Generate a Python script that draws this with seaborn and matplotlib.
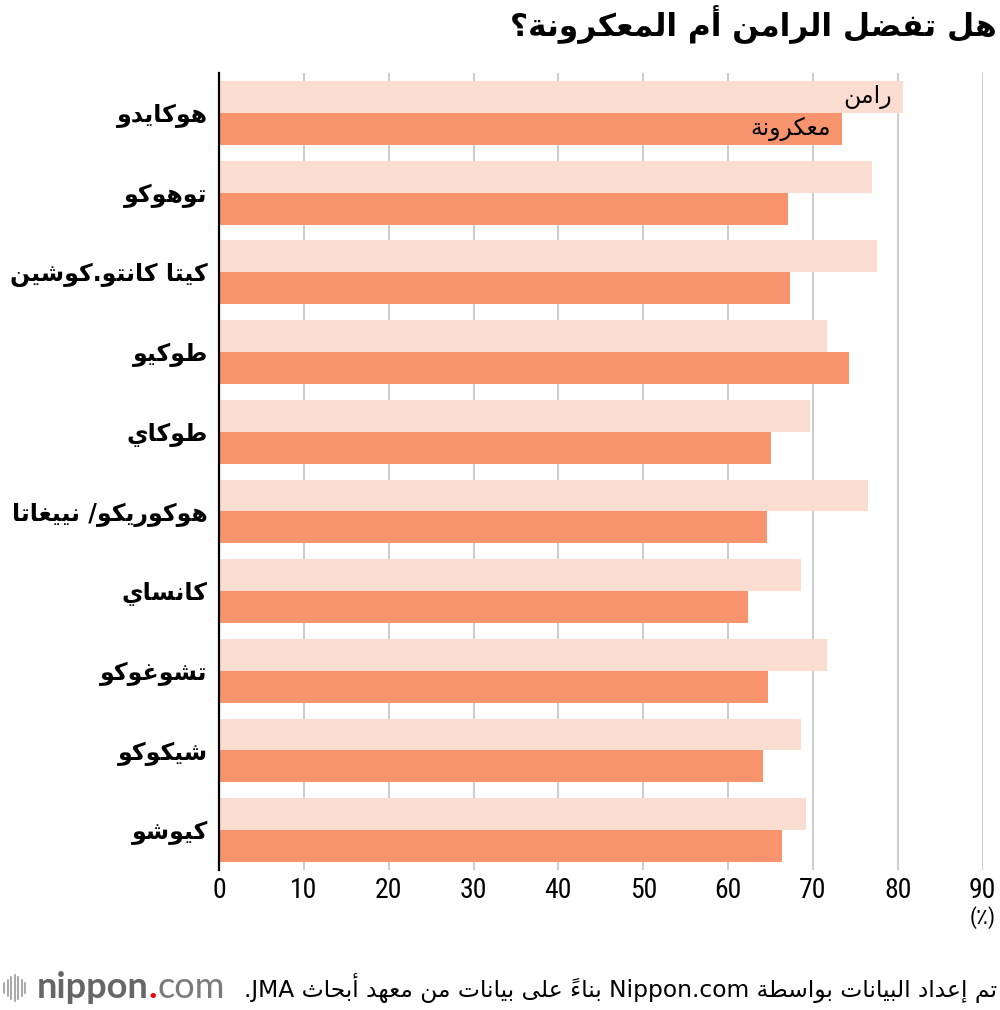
import re
import pandas as pd
import matplotlib
matplotlib.use('Agg')
import matplotlib.pyplot as plt
import seaborn as sns
from matplotlib import font_manager
from matplotlib.lines import Line2D

# chart data
regions = ['هوكايدو', 'توهوكو', 'كيتا كانتو.كوشين', 'طوكيو', 'طوكاي',
           'هوكوريكو/ نييغاتا', 'كانساي', 'تشوغوكو', 'شيكوكو', 'كيوشو']
ramen = [80.6, 77.0, 77.5, 71.7, 69.7, 76.5, 68.6, 71.6, 68.6, 69.2]
pasta = [73.4, 67.1, 67.3, 74.2, 65.1, 64.6, 62.3, 64.7, 64.1, 66.4]
series_names = ['رامن', 'معكرونة']
xticks = [0, 10, 20, 30, 40, 50, 60, 70, 80, 90]

title = 'هل تفضل الرامن أم المعكرونة؟'
unit_label = '(٪)'
source = 'تم إعداد البيانات بواسطة Nippon.com بناءً على بيانات من معهد أبحاث JMA.'

colors = ['#FADCD1', '#F7946E']


# --- minimal arabic shaping + right-to-left ordering (matplotlib has none) ---
def build_forms():
    counts = [1, 2, 2, 2, 2, 4, 2, 4, 2, 4, 4, 4, 4, 4, 2, 2, 2, 2, 4, 4, 4, 4, 4, 4, 4, 4,
              4, 4, 4, 4, 4, 4, 4, 2, 2, 4]
    letters = [chr(c) for c in range(0x0621, 0x063B)] + [chr(c) for c in range(0x0641, 0x064B)]
    forms = {}
    code = 0xFE80
    for ch, n in zip(letters, counts):
        forms[ch] = tuple(range(code, code + n))
        code += n
    return forms


FORMS = build_forms()
LAM_ALEF = {'\u0622': (0xFEF5, 0xFEF6), '\u0623': (0xFEF7, 0xFEF8),
            '\u0625': (0xFEF9, 0xFEFA), '\u0627': (0xFEFB, 0xFEFC)}


def is_mark(c):
    return '\u064B' <= c <= '\u0652'


def ar_shape(s):
    n = len(s)

    def next_letter(j):
        j += 1
        while j < n and is_mark(s[j]):
            j += 1
        return j

    out = []
    prev_joins = False
    i = 0
    while i < n:
        c = s[i]
        if c not in FORMS:
            out.append(c)
            if not is_mark(c):
                prev_joins = False
            i += 1
            continue
        f = FORMS[c]
        j = next_letter(i)
        nxt = s[j] if j < n else None
        if c == '\u0644' and nxt in LAM_ALEF:
            iso, fin = LAM_ALEF[nxt]
            out.append(chr(fin if prev_joins else iso))
            out.extend(s[i + 1:j])
            prev_joins = False
            i = j + 1
            continue
        can_next = len(f) == 4 and nxt in FORMS and len(FORMS[nxt]) >= 2
        if prev_joins and can_next:
            g = f[3]
        elif prev_joins:
            g = f[1]
        elif can_next:
            g = f[2]
        else:
            g = f[0]
        out.append(chr(g))
        prev_joins = can_next
        i += 1
    return ''.join(out)


def ar(s):
    shaped = ar_shape(s)
    # latin runs stay as they are, everything else is reversed char by char
    items = re.findall(r'[A-Za-z0-9]+(?:\.[A-Za-z0-9]+)*|.', shaped)
    mirror = {'(': ')', ')': '('}
    items = [mirror.get(t, t) for t in reversed(items)]
    return ''.join(items)


# --- fonts ---
sns.set_theme(style='white', rc={'text.color': 'black', 'xtick.color': 'black',
                                 'ytick.color': 'black'})
installed = {f.name for f in font_manager.fontManager.ttflist}
narrow = next((f for f in ['Liberation Sans Narrow', 'DejaVu Sans Condensed',
                           'Roboto Condensed', 'Liberation Sans'] if f in installed),
              'DejaVu Sans')
plt.rcParams['font.family'] = ['DejaVu Sans']

df = pd.DataFrame({
    'region': regions * 2,
    'series': [series_names[0]] * len(regions) + [series_names[1]] * len(regions),
    'value': ramen + pasta,
})

fig = plt.figure(figsize=(10, 10.1), dpi=100)
ax = fig.add_axes([0.219, 0.1386, 0.7637, 0.789])

sns.barplot(data=df, x='value', y='region', hue='series', order=regions,
            hue_order=series_names, palette=colors, orient='h', width=0.8,
            saturation=1, linewidth=0, errorbar=None, legend=False, ax=ax)

ax.set_xlim(0, 90)
ax.set_xticks(xticks)
ax.set_xticklabels([str(t) for t in xticks], fontsize=20, family=[narrow, 'DejaVu Sans'])
ax.set_yticks(range(len(regions)))
ax.set_yticklabels([ar(r) for r in regions], fontsize=17, fontweight='bold')
ax.tick_params(axis='y', length=0, pad=8)
ax.tick_params(axis='x', length=3, width=1.4, color='#cccccc', pad=2)
ax.set_xlabel('')
ax.set_ylabel('')
ax.xaxis.grid(True, color='#cccccc', linewidth=1.4)
ax.yaxis.grid(False)
ax.set_axisbelow(True)
for side in ['top', 'right', 'bottom']:
    ax.spines[side].set_visible(False)
ax.spines['left'].set_color('black')
ax.spines['left'].set_linewidth(1.6)

# series labels inside the first pair of bars
ax.annotate(ar(series_names[0]), xy=(ramen[0], -0.2), xytext=(-8, 0),
            textcoords='offset points', ha='right', va='center', fontsize=17)
ax.annotate(ar(series_names[1]), xy=(pasta[0], 0.2), xytext=(-8, 0),
            textcoords='offset points', ha='right', va='center', fontsize=17)

ax.annotate(ar(unit_label), xy=(xticks[-1], 0), xycoords=('data', 'axes fraction'),
            xytext=(0, -26), textcoords='offset points', ha='center', va='top',
            fontsize=16, family=[narrow, 'DejaVu Sans'])

fig.text(0.997, 0.976, ar(title), ha='right', va='center', fontsize=22.5,
         fontweight='bold')
fig.text(0.997, 0.022, ar(source), ha='right', va='center', fontsize=16.8)

# nippon.com logo
logo_font = ['Lato', 'DejaVu Sans']
t1 = fig.text(0.037, 0.022, 'nippon', ha='left', va='center', fontsize=26,
              color='#666666', fontweight='bold', family=logo_font)
dot = ax.annotate('.', xy=(1, 0), xycoords=t1, ha='left', va='bottom',
                  fontsize=26, color='#e60012', fontweight='bold',
                  family=logo_font, annotation_clip=False)
ax.annotate('com', xy=(1, 0), xycoords=dot, ha='left', va='bottom',
            fontsize=26, color='#7a7a7a', fontweight='normal',
            family=logo_font, annotation_clip=False)
for k, h in enumerate([10, 16, 22, 26, 22, 16, 10]):
    x = 0.004 + k * 0.0035
    fig.add_artist(Line2D([x, x], [0.022 - h / 2020, 0.022 + h / 2020],
                          transform=fig.transFigure, color='#aaaaaa', lw=1.5))

fig.savefig('out.png', dpi=100)
